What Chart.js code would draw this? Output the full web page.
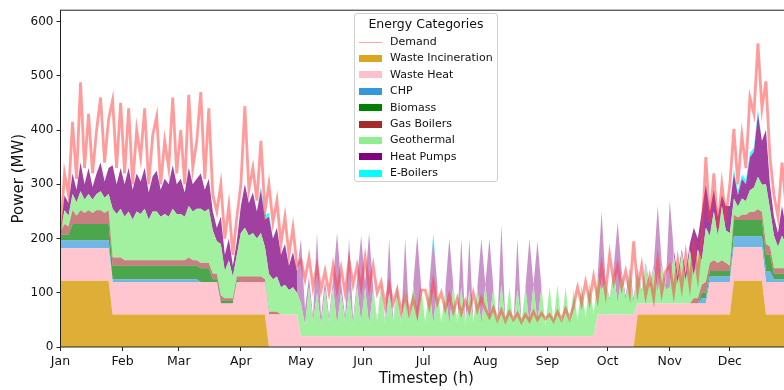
<!DOCTYPE html>
<html>
<head>
<meta charset="utf-8">
<script src="https://cdn.jsdelivr.net/npm/chart.js@4.4.1/dist/chart.umd.min.js"></script>
<style>
  body { margin: 0; background: #fff; overflow: hidden; }
  #wrap { position: relative; width: 784px; height: 390px; overflow: hidden; }
  #wrap canvas { position: absolute; left: 0; top: 0; }
  #legend {
    position: absolute; left: 354px; top: 13px; width: 144px; height: 169px;
    box-sizing: border-box; border: 1px solid #d0d0d0; border-radius: 3px;
    background: rgba(255, 255, 255, 0.8); font-family: 'DejaVu Sans', sans-serif; color: #111;
  }
  #legend .title { position: absolute; left: 0; right: 0; top: 2px; text-align: center; font-size: 12.5px; line-height: 16px; }
  #legend .row { position: absolute; left: 0; height: 16px; width: 100%; }
  #legend .patch { position: absolute; left: 4px; top: 4.5px; width: 23px; height: 7px; }
  #legend .line { position: absolute; left: 4px; top: 7.5px; width: 23px; height: 1px; }
  #legend .txt { position: absolute; left: 35px; top: 0; font-size: 11px; line-height: 16px; white-space: nowrap; }
</style>
</head>
<body>
<div id="wrap">
  <canvas id="chart" width="800" height="390"></canvas>
  <div id="legend"></div>
</div>
<script>
// Axis labels
const months = ['Jan', 'Feb', 'Mar', 'Apr', 'May', 'Jun', 'Jul', 'Aug', 'Sep', 'Oct', 'Nov', 'Dec'];
const monthStartDay = [0, 31, 59, 90, 120, 151, 181, 212, 243, 273, 304, 334];
const yTicks = [0, 100, 200, 300, 400, 500, 600];

// One reading every 2 days (MW)
const sampleDays = 2;

const demand = [
  210, 320, 280, 415, 310, 488, 330, 430, 320, 400, 460, 340, 420, 455, 330, 450, // Jan
  320, 440, 300, 400, 350, 440, 300, 390, 425, 300, 380, 330, 460, 320,           // Feb
  400, 300, 465, 330, 380, 470, 310, 440, 280, 250, 300, 200, 260, 170, 240,      // Mar
  300, 444, 290, 330, 270, 380, 250, 300, 230, 270, 190, 240, 170, 220, 150,      // Apr
  160, 125, 165, 110, 150, 105, 140, 100, 150, 105, 145, 100, 160, 115, 150, 110, // May
  165, 110, 150, 100, 120, 75, 115, 80, 105, 65, 95, 62, 90, 60, 105,             // Jun
  105, 75, 120, 80, 100, 70, 95, 65, 90, 62, 85, 65, 100, 68, 90,                 // Jul
  70, 55, 72, 50, 68, 48, 65, 50, 62, 46, 60, 48, 65, 50, 62, 52,                 // Aug
  60, 48, 65, 50, 70, 52, 75, 110, 80, 120, 85, 130, 90, 150, 100,                // Sep
  170, 120, 150, 110, 140, 100, 195, 105, 150, 95, 130, 90, 160, 100, 140,        // Oct
  150, 100, 160, 110, 170, 115, 190, 130, 200, 350, 230, 320, 220, 300, 240,      // Nov
  300, 402, 300, 390, 330, 460, 430, 560, 440, 490, 350, 280, 240, 340, 260, 280  // Dec
];

const gasBoilers = [
  5, 20, 15, 25, 15, 25, 20, 25, 20, 25, 25, 20, 25, 15, 15, 15,
  10, 10, 10, 10, 10, 10, 10, 10, 10, 10, 10, 10, 10, 10,
  10, 10, 15, 10, 10, 10, 10, 10, 10, 10, 10, 5, 5, 5, 5,
  10, 10, 10, 10, 10, 10, 5, 5, 5, 5, 0, 0, 0, 0, 0,
  0, 0, 0, 0, 0, 0, 0, 0, 0, 0, 0, 0, 0, 0, 0, 0,
  0, 0, 0, 0, 0, 0, 0, 0, 0, 0, 0, 0, 0, 0, 0,
  0, 0, 0, 0, 0, 0, 0, 0, 0, 0, 0, 0, 0, 0, 0,
  0, 0, 0, 0, 0, 0, 0, 0, 0, 0, 0, 0, 0, 0, 0, 0,
  0, 0, 0, 0, 0, 0, 0, 0, 0, 0, 0, 0, 0, 0, 0,
  0, 0, 0, 0, 0, 0, 0, 0, 0, 0, 0, 0, 0, 0, 0,
  0, 0, 0, 0, 0, 0, 10, 10, 15, 20, 15, 20, 15, 20, 15,
  10, 10, 5, 10, 10, 15, 15, 20, 15, 20, 15, 10, 10, 10, 10, 10
];

const geothermal = [
  3, 25, 20, 30, 25, 35, 25, 30, 25, 30, 35, 28, 30, 90, 80, 90,
  80, 90, 75, 90, 85, 95, 75, 90, 90, 80, 85, 80, 95, 85,
  85, 80, 95, 90, 95, 100, 95, 100, 80, 60, 95, 50, 70, 40, 40,
  80, 90, 75, 80, 70, 80, 60, 70, 60, 65, 50, 55, 45, 50, 40,
  60, 20, 90, 25, 80, 20, 85, 25, 90, 20, 80, 25, 85, 20, 90, 25,
  90, 20, 85, 25, 90, 20, 80, 25, 90, 20, 85, 25, 95, 20, 90,
  25, 95, 20, 90, 25, 85, 20, 95, 25, 90, 20, 85, 25, 90, 20,
  95, 25, 90, 20, 95, 25, 90, 20, 85, 25, 90, 20, 95, 25, 90, 20,
  90, 25, 95, 20, 90, 25, 85, 30, 95, 35, 100, 40, 70, 45, 60,
  25, 80, 20, 75, 25, 80, 20, 60, 20, 70, 25, 65, 20, 70, 25,
  30, 90, 35, 95, 40, 100, 40, 90, 45, 100, 50, 90, 50, 100, 60,
  60, 30, 20, 30, 25, 40, 45, 60, 50, 110, 70, 60, 40, 60, 45, 50
];

const heatPumps = [
  0, 28, 23, 38, 23, 53, 28, 48, 23, 38, 53, 30, 48, 80, 55, 75,
  60, 80, 55, 70, 60, 75, 50, 65, 75, 50, 65, 60, 80, 55,
  65, 45, 70, 50, 55, 65, 40, 55, 35, 25, 50, 30, 40, 20, 25,
  50, 80, 60, 75, 50, 80, 50, 105, 75, 90, 60, 75, 45, 65, 40,
  120, 30, 20, 10, 110, 15, 20, 10, 15, 170, 20, 10, 95, 10, 15, 160,
  10, 170, 5, 5, 5, 5, 100, 5, 5, 5, 95, 5, 0, 165, 0,
  0, 0, 160, 5, 0, 0, 160, 0, 0, 90, 0, 95, 0, 0, 160,
  0, 155, 0, 0, 110, 0, 0, 0, 95, 0, 0, 160, 0, 150, 0, 0,
  0, 0, 0, 0, 0, 0, 0, 0, 0, 0, 0, 0, 0, 145, 0,
  5, 5, 150, 5, 10, 5, 10, 5, 5, 5, 10, 5, 160, 5, 10,
  160, 10, 15, 5, 15, 10, 90, 20, 90, 80, 45, 40, 35, 20, 45,
  50, 46, 21, 36, 31, 61, 66, 116, 81, 100, 45, 35, 25, 55, 30, 35
];

// Flat blocks: [from day, MW]
const wasteIncineration = [[0, 122], [26, 60], [104, 0], [288, 60], [336, 122], [352, 60]];
const wasteHeat = [[0, 60], [80, 20], [87, 60], [120, 20], [268, 60], [288, 20], [323, 60], [336, 62], [352, 60]];
const chp = [[0, 15], [26, 5], [70, 0], [320, 10], [336, 20], [356, 5]];
const biomass = [[0, 10], [6, 30], [26, 25], [75, 5], [90, 0], [320, 10], [336, 30], [356, 10]];
const eBoilers = [[0, 0], [100, 8], [106, 0], [186, 10], [188, 0], [336, 8], [350, 0]];

const seriesNames = ['Waste Incineration', 'Waste Heat', 'CHP', 'Biomass', 'Gas Boilers', 'Geothermal', 'Heat Pumps', 'E-Boilers'];
const seriesColors = ['218,165,32', '255,192,203', '52,152,219', '0,128,0', '165,42,42', '144,238,144', '128,0,128', '0,255,255'];
const fillAlpha = [0.9, 0.9, 0.7, 0.7, 0.6, 0.85, 0.75, 0.8];
const demandColor = 'rgba(255,55,55,0.5)';
// short heat pump bursts in the warm months are drawn lighter
const lightSpikeDays = [118, 306];

function stepValue(changes, day) {
    let v = 0;
    for (const [d, val] of changes) if (d <= day) v = val;
    return v;
}

const days = demand.map((_, i) => i * sampleDays);
const fromSteps = (changes) => days.map(d => stepValue(changes, d));

const seriesValues = [
    fromSteps(wasteIncineration),
    fromSteps(wasteHeat),
    fromSteps(chp),
    fromSteps(biomass),
    gasBoilers,
    geothermal,
    heatPumps,
    fromSteps(eBoilers)
];

const toPoints = (vals) => vals.map((v, i) => ({ x: days[i] * 24, y: v }));

const datasets = seriesValues.map((vals, k) => ({
    label: seriesNames[k],
    data: toPoints(vals),
    backgroundColor: `rgba(${seriesColors[k]},${fillAlpha[k]})`,
    borderWidth: 0,
    pointRadius: 0,
    tension: 0,
    fill: k === 0 ? 'origin' : '-1'
}));

// heat pumps: lighter in summer
datasets[6].segment = {
    backgroundColor: (ctx) => {
        const d = ctx.p0.parsed.x / 24;
        return (d >= lightSpikeDays[0] && d < lightSpikeDays[1]) ? 'rgba(128,0,128,0.42)' : undefined;
    }
};

datasets.push({
    label: 'Demand',
    data: toPoints(demand),
    borderColor: demandColor,
    borderWidth: 2.8,
    pointRadius: 0,
    tension: 0,
    fill: false,
    stack: 'demand',
    order: -1
});

// Box around the plot area
const frame = {
    id: 'frame',
    afterDatasetsDraw(chart) {
        const { ctx, chartArea: a } = chart;
        ctx.save();
        ctx.strokeStyle = '#222';
        ctx.lineWidth = 1;
        ctx.strokeRect(a.left, a.top, a.right - a.left, a.bottom - a.top);
        ctx.restore();
    }
};

Chart.defaults.font.family = "'DejaVu Sans', sans-serif";
Chart.defaults.color = '#111';

new Chart(document.getElementById('chart'), {
    type: 'line',
    data: { datasets },
    options: {
        responsive: false,
        animation: false,
        devicePixelRatio: 1,
        layout: { padding: { top: 8, right: 8, bottom: 0, left: 0 } },
        plugins: { legend: { display: false }, tooltip: { enabled: false } },
        scales: {
            x: {
                type: 'linear',
                min: 0,
                max: 8760,
                afterBuildTicks: (s) => { s.ticks = monthStartDay.map(d => ({ value: d * 24 })); },
                afterFit: (s) => { s.height = 43; },
                ticks: {
                    autoSkip: false, maxRotation: 0, padding: 3,
                    font: { size: 12.5 },
                    callback: (v, i) => months[i]
                },
                grid: { drawOnChartArea: false, drawTicks: true, tickLength: 4, color: '#222' },
                border: { display: false },
                title: { display: true, text: 'Timestep (h)', font: { size: 15 }, padding: { top: 0, bottom: 2 } }
            },
            y: {
                stacked: true,
                min: 0,
                max: 621,
                afterBuildTicks: (s) => { s.ticks = yTicks.map(v => ({ value: v })); },
                afterFit: (s) => { s.width = 60.5; },
                ticks: { padding: 3, font: { size: 12 } },
                grid: { drawOnChartArea: false, drawTicks: true, tickLength: 4, color: '#222' },
                border: { display: false },
                title: { display: true, text: 'Power (MW)', font: { size: 15 }, padding: { top: 10, bottom: 0 } }
            }
        }
    },
    plugins: [frame]
});

// Legend (same order as the reference)
const legend = document.getElementById('legend');
legend.innerHTML = '<div class="title">Energy Categories</div>';
const legendItems = [{ name: 'Demand', line: 'rgba(255,60,60,0.45)' }]
    .concat(seriesNames.map((n, k) => ({ name: n, patch: `rgb(${seriesColors[k]})` })));
legendItems.forEach((it, i) => {
    const row = document.createElement('div');
    row.className = 'row';
    row.style.top = (20 + i * 16.4) + 'px';
    const mark = it.line
        ? `<div class="line" style="background:${it.line}"></div>`
        : `<div class="patch" style="background:${it.patch}"></div>`;
    row.innerHTML = mark + `<div class="txt">${it.name}</div>`;
    legend.appendChild(row);
});
</script>
</body>
</html>
